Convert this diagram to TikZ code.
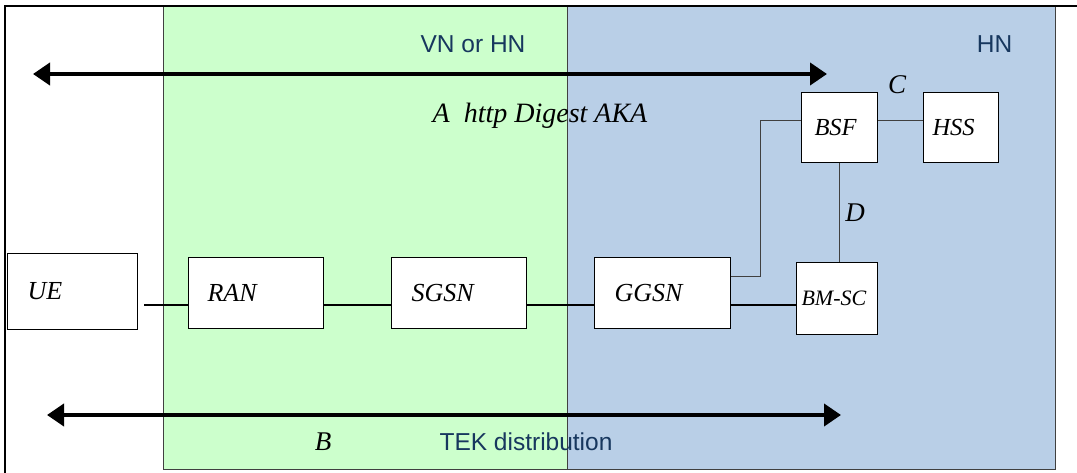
\documentclass[tikz,border=0pt]{standalone}
\usepackage{fontspec}
\setmainfont{Liberation Serif}
\newfontfamily\labelsans{Liberation Sans}
\usetikzlibrary{arrows.meta,calc}
\definecolor{vnfill}{HTML}{CCFFCC}
\definecolor{hnfill}{HTML}{B9CFE7}
\definecolor{netblue}{HTML}{17375E}
\definecolor{edgegray}{HTML}{404040}

\begin{document}
\begin{tikzpicture}[x=1pt,y=-1pt,
  region/.style={draw=edgegray, line width=0.8pt},
  elem/.style={draw=black, fill=white, line width=1pt, anchor=north west,
    align=left, inner ysep=0pt, font=\itshape\fontsize{26}{30}\selectfont},
  netlabel/.style={font=\labelsans\fontsize{24.5}{28}\selectfont, text=netblue,
    inner sep=0pt, anchor=base},
  iflabel/.style={font=\itshape\fontsize{27}{30}\selectfont, inner sep=0pt, anchor=base},
  link/.style={line width=1.2pt},
  thinlink/.style={draw=edgegray, line width=0.9pt},
  flow/.style={line width=4pt,
    {Triangle[length=17pt,width=22pt]}-{Triangle[length=17pt,width=22pt]}},
]
\useasboundingbox (0,0) rectangle (1077,473);

% network domains
\filldraw[region, fill=vnfill] (163,6) rectangle (567,469);
\filldraw[region, fill=hnfill] (567,6) rectangle (1055,469);

% outer frame
\draw[line width=2pt] (5,473) -- (5,6) -- (1077,6);

% end-to-end procedures
\coordinate (aL) at (33,74);
\coordinate (aR) at (827,74);
\coordinate (bL) at (47,415);
\coordinate (bR) at (841,415);
\draw[flow] (aL) -- (aR);
\draw[flow] (bL) -- (bR);

% network elements
\node[elem, minimum height=76pt, inner xsep=20pt, text width=90pt] (ue) at (7,253) {UE};
\node[elem, minimum height=71pt, inner xsep=19pt, text width=97pt] (ran) at (188,257) {RAN};
\node[elem, minimum height=71pt, inner xsep=20pt, text width=95pt] (sgsn) at (391,257) {SGSN};
\node[elem, minimum height=71pt, inner xsep=20pt, text width=96pt] (ggsn) at (594,257) {GGSN};
\node[elem, minimum height=72pt, inner xsep=5pt, text width=71pt,
  font=\itshape\fontsize{22}{26}\selectfont] (bmsc) at (796,262) {BM-SC};
\node[elem, minimum height=70pt, inner xsep=13pt, text width=50pt,
  font=\itshape\fontsize{24.5}{28}\selectfont] (bsf) at (801,92) {BSF};
\node[elem, minimum height=70pt, inner xsep=9pt, text width=57pt,
  font=\itshape\fontsize{24.5}{28}\selectfont] (hss) at (923,92) {HSS};

% interfaces between the elements
\draw[link, shorten <=6pt] (ue.east |- 0,305) -- (ran.west |- 0,305);
\draw[link] (ran.east |- 0,305) -- (sgsn.west |- 0,305);
\draw[link] (sgsn.east |- 0,305) -- (ggsn.west |- 0,305);
\draw[link] (ggsn.east |- 0,305) -- (bmsc.west |- 0,305);
\draw[thinlink] (ggsn.east |- 0,276) -| (760,120) -- (bsf.west |- 0,120);
\draw[thinlink] (bsf.east |- 0,120) -- (hss.west |- 0,120);
\draw[thinlink] (bsf.south) -- (bsf.south |- bmsc.north);

% labels
\node[netlabel] (vn) at (473,52.5) {VN or HN};
\node[netlabel] (hn) at (994.5,52.5) {HN};
\node[netlabel] (tek) at (526,450) {TEK distribution};
\node[iflabel, font=\itshape\fontsize{28}{31}\selectfont] (ia) at (540,123) {A\ \ http Digest AKA};
\node[iflabel] (ic) at (897,94) {C};
\node[iflabel] (id) at (855,222) {D};
\node[iflabel] (ib) at (323,450) {B};
\end{tikzpicture}
\end{document}
